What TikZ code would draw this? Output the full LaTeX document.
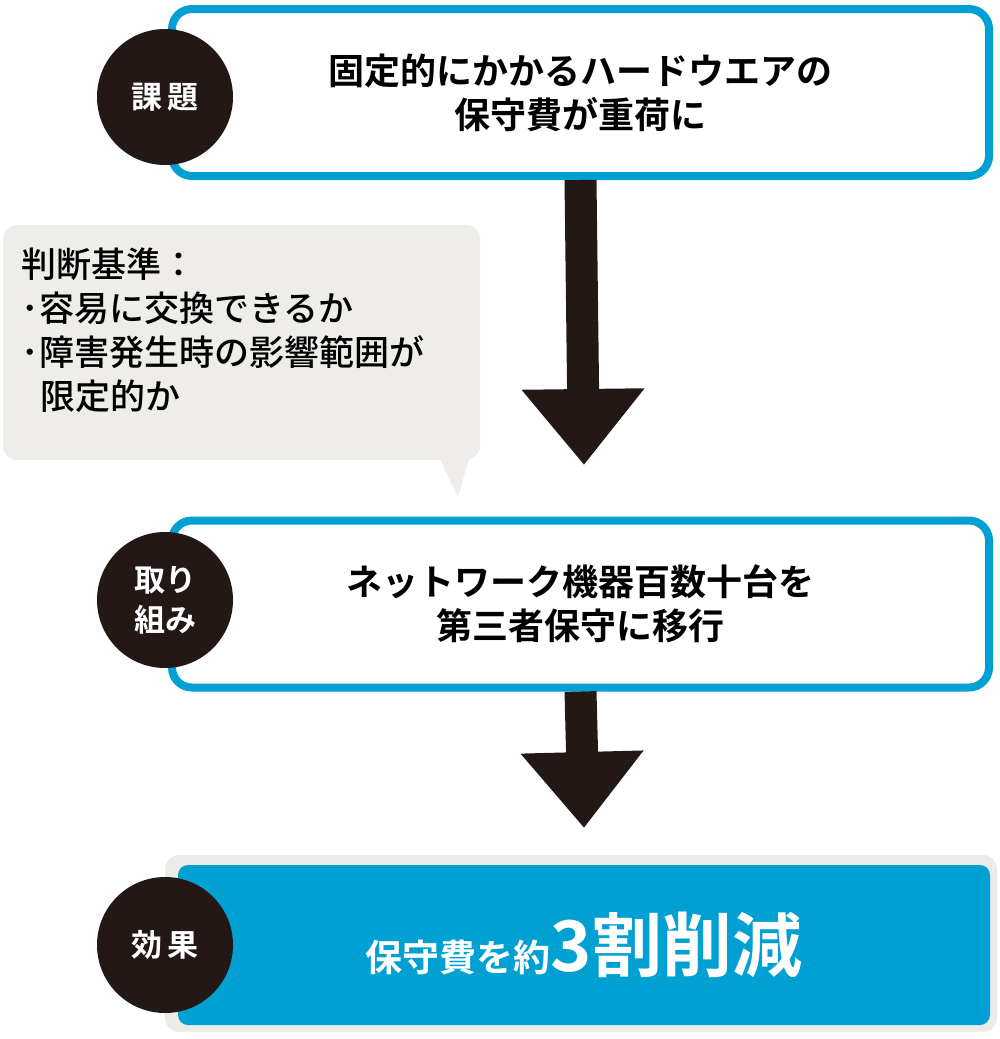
\documentclass[tikz,border=0pt]{standalone}
\usepackage{fontspec}
\setmainfont{Noto Sans CJK JP Medium}
\newfontfamily\jpbold{Noto Sans CJK JP Bold}
\usetikzlibrary{arrows.meta,positioning}
\definecolor{kblue}{HTML}{00A0D2}
\definecolor{kdark}{HTML}{231815}
\definecolor{kgray}{HTML}{EEEDE9}
\tikzset{
  stepbox/.style={draw=kblue,line width=8pt,rounded corners=20pt,fill=white,minimum width=817pt,minimum height=167pt,align=center,font=\jpbold\fontsize{36}{44}\selectfont},
  tag/.style={circle,fill=kdark,minimum size=136pt,inner sep=0pt,align=center,text=white,font=\jpbold\fontsize{31}{40}\selectfont},
  bigarrow/.style={kdark,line width=32pt,-{Triangle[width=118pt,length=76pt]}}
}
\begin{document}
\begin{tikzpicture}[x=1pt,y=-1pt]
	\useasboundingbox (0,0) rectangle (1000,1039);
	% boxes
	\node[stepbox] (problem) at (580.5,92.5) {固定的にかかるハードウエアの\\保守費が重荷に};
	\node[stepbox] (action) at (580.5,604) {ネットワーク機器百数十台を\\第三者保守に移行};
	\fill[kgray!90!black!10!kgray,rounded corners=14pt] (165,855) rectangle (997,1032);
	\node[fill=kblue,rounded corners=10pt,minimum width=812pt,minimum height=160pt,text=white,font=\jpbold\fontsize{37}{40}\selectfont] (effect) at (584,945) {保守費を約{\fontsize{70}{72}\selectfont 3割削減}};
	% tags
	\node[tag] (tproblem) at (165,97) {課\,題};
	\node[tag] (taction) at (165,600) {取り\\組み};
	\node[tag] (teffect) at (165,945) {効\,果};
	% callout
	\fill[kgray,rounded corners=14pt] (3,225) rectangle (480,460);
	\fill[kgray] (438,455) -- (458,497) -- (470,455) -- cycle;
	\node[anchor=north west,align=left,font=\fontsize{35}{44}\selectfont] (criteria) at (18,244) {判断基準：\\･容易に交換できるか\\･障害発生時の影響範囲が\\\hspace{0.55em}限定的か};
	% arrows
	\coordinate (tip1) at (584,465);
	\coordinate (tip2) at (584,828);
	\draw[bigarrow] (problem.south) -- (tip1);
	\draw[bigarrow] (action.south) -- (tip2);
\end{tikzpicture}
\end{document}
